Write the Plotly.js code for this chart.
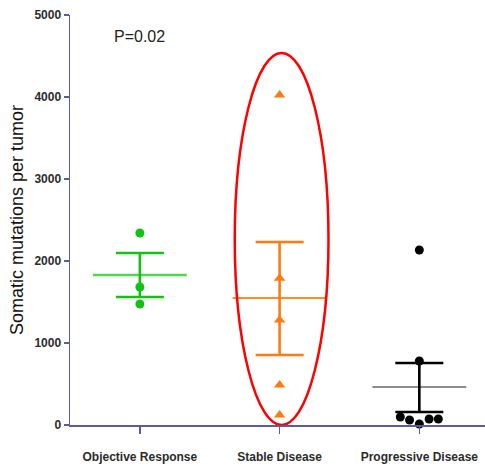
<!DOCTYPE html>
<html>
<head>
<meta charset="utf-8">
<script src="https://cdn.plot.ly/plotly-3.0.1.min.js"></script>
<style>html,body{margin:0;padding:0;background:#fff;}#chart{width:485px;height:466px;}</style>
</head>
<body>
<div id="chart"></div>
<script>
// ---- data ----
const categories = ["Objective Response", "Stable Disease", "Progressive Disease"];
const objectiveValues = [2341, 1683, 1476];
const stableValues = [4024, 1790, 1280, 488, 122];
const progressiveValues = [2134, 780, 98, 61, 12, 73, 73];
const progressiveJitter = [0, 0, -0.136, -0.07, 0, 0.07, 0.136];
const groupMeans = [1829, 1549, 463];
const errUpper = [2098, 2232, 756];
const errLower = [1561, 854, 159];
const yTickVals = [0, 1000, 2000, 3000, 4000, 5000];

const colors = ["#14c214", "#ff7a10", "#000000"];
const meanColors = ["#4ed84e", "#ff8a2a", "#666666"];
const meanWidths = [2.5, 1.8, 1.6];
const symbols = ["circle", "triangle-up", "circle"];

const groups = [objectiveValues, stableValues, progressiveValues];
const traces = [];
groups.forEach((vals, i) => {
  const xs = vals.map((v, k) => i + (i === 2 ? progressiveJitter[k] : 0));
  traces.push({
    type: "scatter", mode: "markers", x: xs, y: vals, cliponaxis: false,
    marker: {symbol: symbols[i], size: i === 1 ? 10 : 9, color: colors[i]},
    hoverinfo: "y", showlegend: false
  });
  traces.push({
    type: "scatter", mode: "lines", x: [i - 0.336, i + 0.336], y: [groupMeans[i], groupMeans[i]],
    line: {color: meanColors[i], width: meanWidths[i]}, showlegend: false, hoverinfo: "skip"
  });
  traces.push({
    type: "scatter", mode: "markers", x: [i], y: [groupMeans[i]],
    marker: {size: 1, color: "rgba(0,0,0,0)"},
    error_y: {type: "data", symmetric: false,
      array: [errUpper[i] - groupMeans[i]], arrayminus: [groupMeans[i] - errLower[i]],
      color: colors[i], thickness: 2.6, width: 24},
    showlegend: false, hoverinfo: "skip"
  });
});

const axisColor = "#5c5c9c";
const tickFont = {family: "'Liberation Sans', Arial, sans-serif", size: 12, color: "#2b2b2b", weight: "bold"};

const layout = {
  width: 485, height: 466,
  margin: {l: 70, r: 0, t: 15, b: 41},
  paper_bgcolor: "#fff", plot_bgcolor: "#fff",
  showlegend: false,
  xaxis: {
    range: [-0.5, 2.47], tickvals: [0, 1, 2], ticktext: categories,
    showgrid: false, zeroline: false, showline: true, linecolor: axisColor, linewidth: 1.5,
    ticks: "outside", ticklen: 7, tickcolor: axisColor, tickwidth: 1.5,
    tickfont: tickFont, ticklabelstandoff: 13, fixedrange: true
  },
  yaxis: {
    range: [0, 5000], tickvals: yTickVals, ticktext: yTickVals.map(String),
    showgrid: false, zeroline: false, showline: true, linecolor: axisColor, linewidth: 1.5,
    ticks: "outside", ticklen: 5, tickcolor: axisColor, tickwidth: 1.5,
    tickfont: tickFont, ticklabelstandoff: 0,
    title: {text: "Somatic mutations per tumor", font: {family: "'Liberation Sans', Arial, sans-serif", size: 18, color: "#111"}, standoff: 6},
    automargin: false, fixedrange: true
  },
  shapes: [{
    type: "circle", xref: "x", yref: "y", x0: 0.679, x1: 1.35, y0: 0, y1: 4537,
    line: {color: "#ff0000", width: 2.5}
  }],
  annotations: [{
    xref: "x", yref: "y", x: 0, y: 4732, text: "P=0.02", showarrow: false,
    font: {family: "'Liberation Sans', Arial, sans-serif", size: 16, color: "#222"}
  }]
};

Plotly.newPlot("chart", traces, layout, {displayModeBar: false, staticPlot: true});
</script>
</body>
</html>
